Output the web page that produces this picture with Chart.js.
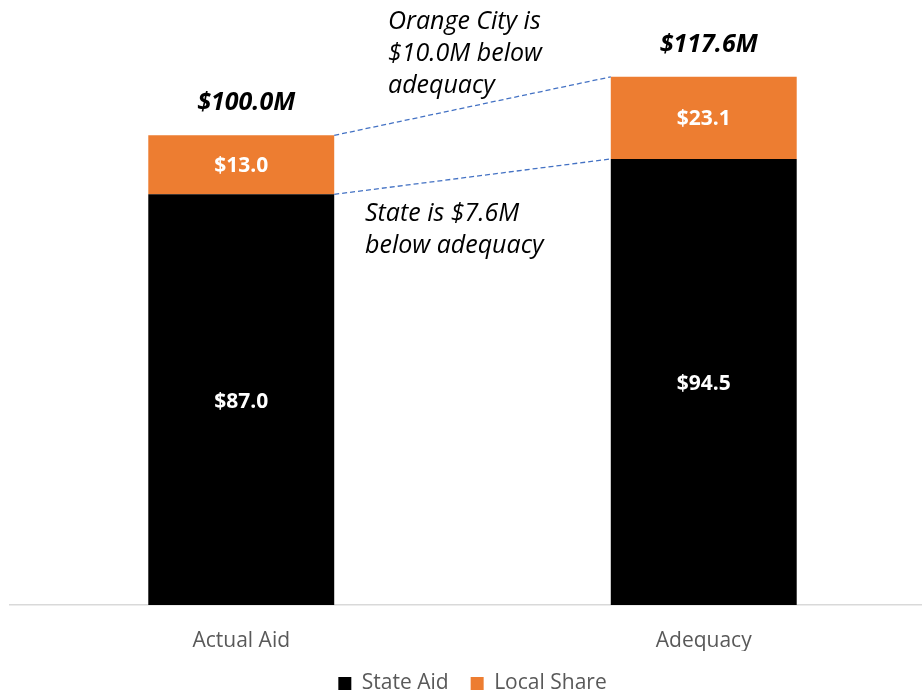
<!DOCTYPE html>
<html>
<head>
<meta charset="utf-8">
<script src="https://cdn.jsdelivr.net/npm/chart.js@4"></script>
<style>
  html, body { margin: 0; padding: 0; background: #fff; overflow: hidden; }
  #wrap { width: 935px; height: 695px; }
</style>
</head>
<body>
<div id="wrap"><canvas id="myChart"></canvas></div>
<script>
// datos
const categories = ['Actual Aid', 'Adequacy'];
const stateAid = [87.0, 94.5];
const localShare = [12.5, 17.4];        // alto de la barra tal como esta dibujada
const localShareLabels = [13.0, 23.1];  // valor impreso en la barra
const totals = [100.0, 117.6];
const notaLocal = ['Orange City is', '$10.0M below', 'adequacy'];
const notaState = ['State is $7.6M', 'below adequacy'];

const FONT = '"Open Sans", "Noto Sans", sans-serif';

// etiquetas, totales, lineas punteadas y notas
const extras = {
  id: 'extras',
  afterDatasetsDraw(chart) {
    const ctx = chart.ctx;
    const m0 = chart.getDatasetMeta(0).data;
    const m1 = chart.getDatasetMeta(1).data;
    ctx.save();
    ctx.textAlign = 'center';
    ctx.textBaseline = 'middle';
    ctx.fillStyle = '#fff';
    ctx.font = 'bold 21px ' + FONT;
    m0.forEach((el, i) => {
      ctx.fillText('$' + stateAid[i].toFixed(1), el.x, (el.y + el.base) / 2 + 2);
    });
    m1.forEach((el, i) => {
      ctx.fillText('$' + localShareLabels[i].toFixed(1), el.x, (el.y + el.base) / 2 + 1);
    });
    // totales
    ctx.fillStyle = '#000';
    ctx.font = 'italic bold 25px ' + FONT;
    m1.forEach((el, i) => {
      ctx.fillText('$' + totals[i].toFixed(1) + 'M', el.x + 5, el.y - 32);
    });
    // lineas punteadas
    ctx.strokeStyle = '#4472C4';
    ctx.lineWidth = 1.3;
    ctx.setLineDash([5, 3]);
    [m1, m0].forEach(m => {
      const a = m[0], b = m[1];
      ctx.beginPath();
      ctx.moveTo(a.x + a.width / 2, a.y);
      ctx.lineTo(b.x - b.width / 2, b.y);
      ctx.stroke();
    });
    ctx.setLineDash([]);
    // notas
    ctx.textAlign = 'left';
    ctx.font = 'italic 25px ' + FONT;
    notaLocal.forEach((t, i) => ctx.fillText(t, 388, 22 + i * 32));
    notaState.forEach((t, i) => ctx.fillText(t, 365, 214 + i * 32));
    ctx.restore();
  }
};

new Chart('myChart', {
  type: 'bar',
  data: {
    labels: categories,
    datasets: [{
      label: 'State Aid',
      data: stateAid,
      backgroundColor: '#000000'
    }, {
      label: 'Local Share',
      data: localShare,
      backgroundColor: '#ED7D31'
    }]
  },
  options: {
    responsive: true,
    maintainAspectRatio: false,
    animation: false,
    layout: { padding: { top: 15, left: 10, right: 0, bottom: -9 } },
    datasets: { bar: { categoryPercentage: 1, barPercentage: 0.402 } },
    scales: {
      x: {
        stacked: true,
        grid: { display: false },
        border: { display: true, color: '#D9D9D9', width: 1.5 },
        ticks: { color: '#595959', font: { family: FONT, size: 21 }, padding: 15 },
        afterFit(scale) { scale.height = 46; }
      },
      y: {
        stacked: true,
        display: false,
        min: 0,
        max: 125
      }
    },
    plugins: {
      legend: {
        position: 'bottom',
        labels: {
          color: '#595959',
          font: { family: FONT, size: 21 },
          boxWidth: 13,
          boxHeight: 13,
          padding: 22
        }
      },
      tooltip: { enabled: false }
    }
  },
  plugins: [extras]
});
</script>
</body>
</html>
